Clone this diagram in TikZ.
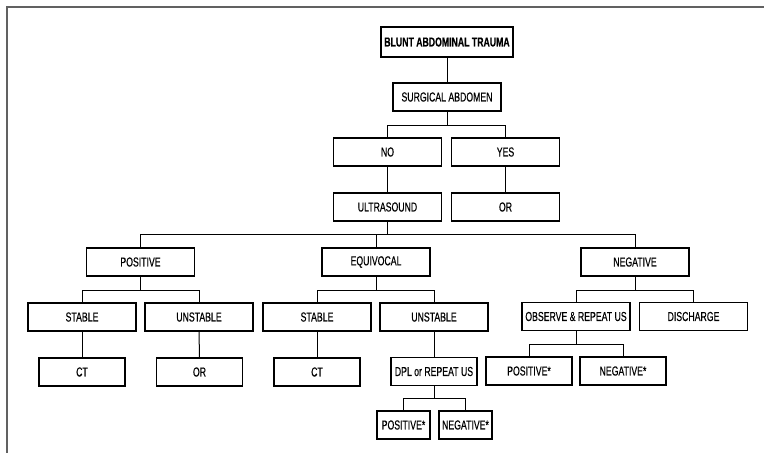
\documentclass[tikz,border=0pt]{standalone}
\usepackage{fontspec}
\setmainfont{Liberation Sans}
\newfontfamily\narrowfont[FakeStretch=0.67,FakeBold=0.4]{Liberation Sans}

\definecolor{framegrey}{rgb}{0.38,0.38,0.38}

\tikzset{
  box/.style={draw, line width=1.2pt, minimum width=108pt, minimum height=28pt,
    inner sep=1pt, font=\narrowfont\fontsize{13}{14}\selectfont},
  smallbox/.style={box, minimum width=86pt},
  tinybox/.style={box, minimum width=53pt},
  link/.style={line width=1pt},
}

\begin{document}
\begin{tikzpicture}[x=1pt,y=-1pt]
    \useasboundingbox (0,0) rectangle (764,453);
    \draw[framegrey, line width=2pt] (7,453) -- (7,7) -- (764,7);

    % top of the tree
    \node[box, minimum width=132pt, minimum height=30pt,
      font=\narrowfont\bfseries\fontsize{13}{14}\selectfont] (trauma) at (447,42) {BLUNT ABDOMINAL TRAUMA};
    \node[box] (surgical) at (447,97) {SURGICAL ABDOMEN};
    \node[box] (no) at (387.5,152) {NO};
    \node[box] (yes) at (505.5,152) {YES};
    \node[box] (us) at (387.5,207) {ULTRASOUND};
    \node[box] (oryes) at (505.5,207) {OR};

    % ultrasound results
    \node[box] (positive) at (140.5,262) {POSITIVE};
    \node[box] (equivocal) at (376,262) {EQUIVOCAL};
    \node[box] (negative) at (635,262) {NEGATIVE};

    \node[box] (stablepos) at (82,317) {STABLE};
    \node[box] (unstablepos) at (199,317) {UNSTABLE};
    \node[smallbox] (ctpos) at (82,372) {CT};
    \node[smallbox] (orpos) at (199.5,372) {OR};

    \node[box] (stableeq) at (317,317) {STABLE};
    \node[box] (unstableeq) at (434,317) {UNSTABLE};
    \node[smallbox] (cteq) at (317,372) {CT};
    \node[smallbox] (dpl) at (434,371.5) {DPL or REPEAT US};
    \node[tinybox] (dplpos) at (403.5,425) {POSITIVE*};
    \node[tinybox] (dplneg) at (465.5,425) {NEGATIVE*};

    \node[box] (observe) at (576,316.5) {OBSERVE \& REPEAT US};
    \node[box] (discharge) at (693.5,316.5) {DISCHARGE};
    \node[smallbox] (obspos) at (529,371) {POSITIVE*};
    \node[smallbox] (obsneg) at (623,371) {NEGATIVE*};

    % connectors
    \draw[link] (trauma) -- (surgical);
    \foreach \kid in {no,yes}
      \draw[link] (surgical.south) -- ++(0,14) -| (\kid.north);
    \draw[link] (no) -- (us);
    \draw[link] (yes) -- (oryes);
    \foreach \kid in {positive,equivocal,negative}
      \draw[link] (us.south) -- ++(0,13) -| (\kid.north);

    \foreach \kid in {stablepos,unstablepos}
      \draw[link] (positive.south) -- ++(0,13.5) -| (\kid.north);
    \draw[link] (stablepos) -- (ctpos);
    \draw[link] (unstablepos) -- (orpos);

    \foreach \kid in {stableeq,unstableeq}
      \draw[link] (equivocal.south) -- ++(0,13.5) -| (\kid.north);
    \draw[link] (stableeq) -- (cteq);
    \draw[link] (unstableeq) -- (dpl);
    \foreach \kid in {dplpos,dplneg}
      \draw[link] (dpl.south) -- ++(0,12) -| (\kid.north);

    \foreach \kid in {observe,discharge}
      \draw[link] (negative.south) -- ++(0,13.5) -| (\kid.north);
    \foreach \kid in {obspos,obsneg}
      \draw[link] (observe.south) -- ++(0,13) -| (\kid.north);

\end{tikzpicture}
\end{document}
